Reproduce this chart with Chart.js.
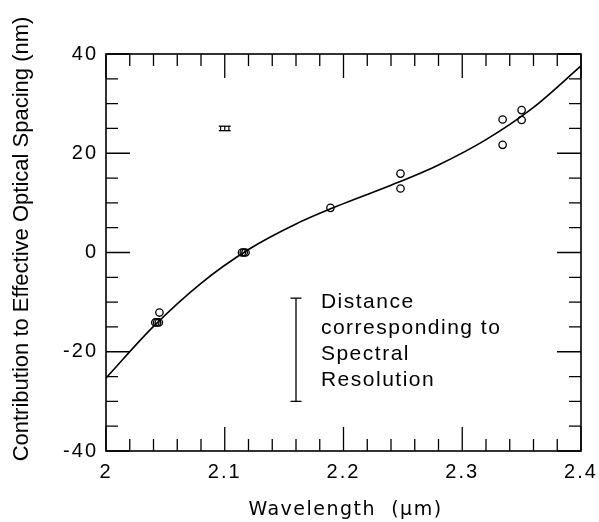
<!DOCTYPE html>
<html>
<head>
<meta charset="utf-8">
<script src="https://cdn.jsdelivr.net/npm/chart.js@4"></script>
<style>
  html, body { margin: 0; padding: 0; background: #fff; }
</style>
</head>
<body>
<canvas id="spacingChart" width="599" height="522"></canvas>
<script>
// fitted curve
var curveX = [2.00, 2.04, 2.08, 2.12, 2.16, 2.20, 2.24, 2.28, 2.32, 2.36, 2.40];
var curveY = [-25.3, -14.9, -6.2, 0.6, 5.75, 9.85, 13.55, 17.65, 22.75, 29.25, 37.6];

// measured points
var obsX = [2.0415, 2.043, 2.0445, 2.045, 2.1145, 2.116, 2.1175, 2.189, 2.248, 2.248, 2.334, 2.334, 2.350, 2.350];
var obsY = [-14.1, -14.1, -14.1, -12.1, 0, 0, 0, 9.0, 15.9, 12.9, 26.8, 21.7, 28.7, 26.7];

// resolution bar
var resX = 2.160;
var resY = [-9.2, -30.0];

// small error marker near the top
var markX = [2.095, 2.105];
var markTicks = [2.0965, 2.100, 2.1035];
var markY = [24.55, 25.0, 25.45];

// note text
var noteLines = ["Distance", "corresponding to", "Spectral", "Resolution"];
var notePos = [2.181, -10];

// axes
var xTickLabels = ["2", "2.1", "2.2", "2.3", "2.4"];
var yTickLabels = ["-40", "-20", "0", "20", "40"];
var xTitle = "Wavelength  (\u03bcm)";
var yTitle = "Contribution to Effective Optical Spacing (nm)";

function pts(xs, ys) {
    return xs.map(function(v, i) { return {x: v, y: ys[i]}; });
}

// wider letter spacing for the tick labels, like the scanned figure
var spacingPlugin = {
    id: 'spacingPlugin',
    beforeDraw: function(chart) {
        chart.ctx.letterSpacing = '2px';
    }
};

// frame, inside ticks, axis titles and the note
var framePlugin = {
    id: 'framePlugin',
    afterDraw: function(chart) {
        var ctx = chart.ctx;
        var a = chart.chartArea;
        var x = chart.scales.x;
        var y = chart.scales.y;
        ctx.save();
        ctx.letterSpacing = '0px';
        ctx.strokeStyle = '#000';
        ctx.lineWidth = 1.6;
        ctx.strokeRect(a.left, a.top, a.right - a.left, a.bottom - a.top);

        ctx.lineWidth = 1.3;
        ctx.beginPath();
        for (var i = 0; i <= 20; i++) {
            var px = x.getPixelForValue(2 + i * 0.02);
            var len = (i % 5 === 0) ? 24 : 12;
            ctx.moveTo(px, a.bottom); ctx.lineTo(px, a.bottom - len);
            ctx.moveTo(px, a.top); ctx.lineTo(px, a.top + len);
        }
        for (var j = 0; j <= 16; j++) {
            var v = -40 + j * 5;
            var py = y.getPixelForValue(v);
            var ylen = (v % 20 === 0) ? 24 : 12;
            ctx.moveTo(a.left, py); ctx.lineTo(a.left + ylen, py);
            ctx.moveTo(a.right, py); ctx.lineTo(a.right - ylen, py);
        }
        ctx.stroke();

        ctx.fillStyle = '#000';

        // note next to the resolution bar
        ctx.font = '21px "Liberation Sans", Arial, sans-serif';
        ctx.letterSpacing = '1.5px';
        ctx.textAlign = 'left';
        ctx.textBaseline = 'middle';
        var tx = x.getPixelForValue(notePos[0]);
        var ty = y.getPixelForValue(notePos[1]);
        noteLines.forEach(function(line, k) {
            ctx.fillText(line, tx, ty + k * 26);
        });

        // x title
        ctx.font = '19px "DejaVu Sans", sans-serif';
        ctx.letterSpacing = '1.5px';
        ctx.textAlign = 'center';
        ctx.fillText(xTitle, (a.left + a.right) / 2 + 2, 510);

        // y title
        ctx.font = '22px "Liberation Sans", Arial, sans-serif';
        ctx.letterSpacing = '0px';
        ctx.translate(22, 239);
        ctx.rotate(-Math.PI / 2);
        ctx.fillText(yTitle, 0, 0);
        ctx.restore();
    }
};

var ctx = document.getElementById('spacingChart').getContext('2d');
var chart = new Chart(ctx, {
    type: 'line',
    data: {
        datasets: [
        {
            label: 'fit',
            data: pts(curveX, curveY),
            borderColor: '#000',
            borderWidth: 1.6,
            pointRadius: 0,
            cubicInterpolationMode: 'monotone',
            fill: false
        },
        {
            label: 'measured',
            data: pts(obsX, obsY),
            showLine: false,
            pointStyle: 'circle',
            pointRadius: 3.7,
            pointBorderWidth: 1.3,
            pointBorderColor: '#000',
            pointBackgroundColor: 'rgba(0, 0, 0, 0)'
        },
        {
            label: 'resolution',
            data: pts([resX, resX], resY),
            borderColor: '#000',
            borderWidth: 1.3,
            pointStyle: 'line',
            pointRadius: 5.5,
            pointBorderWidth: 1.3,
            pointBorderColor: '#000'
        },
        {
            label: 'markTop',
            data: pts(markX, [markY[2], markY[2]]),
            borderColor: '#000',
            borderWidth: 1.3,
            pointRadius: 0
        },
        {
            label: 'markBottom',
            data: pts(markX, [markY[0], markY[0]]),
            borderColor: '#000',
            borderWidth: 1.3,
            pointRadius: 0
        },
        {
            label: 'markBars',
            data: pts(markTicks, [markY[1], markY[1], markY[1]]),
            showLine: false,
            pointStyle: 'line',
            rotation: 90,
            pointRadius: 2.2,
            pointBorderWidth: 1.2,
            pointBorderColor: '#000'
        }]
    },
    options: {
        responsive: false,
        animation: false,
        devicePixelRatio: 1,
        layout: {
            padding: {top: 54, right: 18, left: 0, bottom: 0}
        },
        plugins: {
            legend: {display: false},
            tooltip: {enabled: false}
        },
        scales: {
            x: {
                type: 'linear',
                min: 2,
                max: 2.4,
                grid: {display: false, drawTicks: false},
                border: {display: false},
                ticks: {
                    stepSize: 0.1,
                    padding: 9,
                    color: '#000',
                    font: {family: '"Liberation Sans", Arial, sans-serif', size: 20},
                    maxRotation: 0,
                    autoSkip: false,
                    callback: function(v, i) { return xTickLabels[i]; }
                },
                title: {display: false},
                afterFit: function(scale) {
                    scale.height = 71;
                    scale.paddingLeft = 0;
                    scale.paddingRight = 0;
                }
            },
            y: {
                type: 'linear',
                min: -40,
                max: 40,
                grid: {display: false, drawTicks: false},
                border: {display: false},
                ticks: {
                    stepSize: 20,
                    padding: 8,
                    color: '#000',
                    font: {family: '"Liberation Sans", Arial, sans-serif', size: 20},
                    callback: function(v, i) { return yTickLabels[i]; }
                },
                title: {display: false},
                afterFit: function(scale) { scale.width = 106; }
            }
        }
    },
    plugins: [spacingPlugin, framePlugin]
});
</script>
</body>
</html>
